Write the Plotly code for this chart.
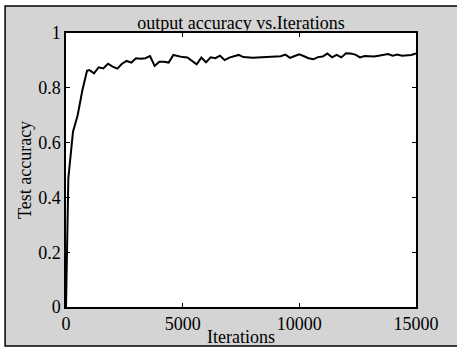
import plotly.graph_objects as go

# Test accuracy logged during training
iterations = [0, 100, 300, 500, 700, 900, 1000, 1200, 1400, 1600, 1800, 2000,
              2200, 2400, 2600, 2800, 3000, 3200, 3400, 3600, 3800, 4000, 4200,
              4400, 4600, 4800, 5000, 5200, 5400, 5600, 5800, 6000, 6200, 6400,
              6600, 6800, 7000, 7200, 7400, 7600, 7800, 8000, 8200, 8400, 8600,
              8800, 9000, 9200, 9400, 9600, 9800, 10000, 10200, 10400, 10600,
              10800, 11000, 11200, 11400, 11600, 11800, 12000, 12200, 12400,
              12600, 12800, 13000, 13200, 13400, 13600, 13800, 14000, 14200,
              14400, 14600, 14800, 15000]
accuracy = [0.0, 0.47, 0.64, 0.70, 0.79, 0.862, 0.865, 0.853, 0.875, 0.871,
            0.888, 0.877, 0.870, 0.888, 0.898, 0.892, 0.908, 0.906, 0.908,
            0.916, 0.880, 0.895, 0.895, 0.892, 0.920, 0.915, 0.912, 0.911,
            0.900, 0.886, 0.910, 0.893, 0.911, 0.908, 0.917, 0.901, 0.910,
            0.915, 0.920, 0.912, 0.910, 0.910, 0.911, 0.912, 0.913, 0.914,
            0.914, 0.915, 0.921, 0.909, 0.916, 0.922, 0.915, 0.908, 0.904,
            0.912, 0.914, 0.925, 0.911, 0.920, 0.911, 0.926, 0.925, 0.921,
            0.911, 0.916, 0.915, 0.914, 0.917, 0.919, 0.923, 0.917, 0.921,
            0.917, 0.919, 0.920, 0.925]

x_ticks = [0, 5000, 10000, 15000]
x_labels = ["0", "5000", "10000", "15000"]
y_ticks = [0, 0.2, 0.4, 0.6, 0.8, 1.0]
y_labels = ["0", "0.2", "0.4", "0.6", "0.8", "1"]

FONT = "Liberation Serif"
GRAY = "#d4d4d4"

fig = go.Figure()
fig.add_trace(go.Scatter(x=iterations, y=accuracy, mode="lines",
                         line=dict(color="black", width=2), showlegend=False))

axis_common = dict(showgrid=False, zeroline=False, showline=True, mirror="ticks",
                   linecolor="black", linewidth=1.5, ticks="inside", ticklen=4,
                   tickwidth=1, tickcolor="black",
                   tickfont=dict(family=FONT, size=18, color="black"))

fig.update_xaxes(range=[0, 15000], tickvals=x_ticks, ticktext=x_labels, **axis_common)
fig.update_yaxes(range=[0, 1], tickvals=y_ticks, ticktext=y_labels, **axis_common)

fig.update_layout(
    width=457, height=348,
    margin=dict(l=66, r=41, t=33, b=41),
    paper_bgcolor="white",
    plot_bgcolor="white",
    title=dict(text="output accuracy vs.Iterations", x=0.5, xref="paper",
               xanchor="center", y=1.0, yref="paper", yanchor="bottom",
               pad=dict(b=4),
               font=dict(family=FONT, size=18, color="black")),
    shapes=[
        # gray figure panel with black frame
        dict(type="rect", xref="paper", yref="paper", x0=-0.174, x1=1.14,
             y0=-0.1423, y1=1.0985, fillcolor=GRAY,
             line=dict(color="black", width=1.5), layer="below"),
        # white plotting area
        dict(type="rect", xref="paper", yref="paper", x0=0, x1=1, y0=0, y1=1,
             fillcolor="white", line=dict(width=0), layer="below"),
    ],
    annotations=[
        dict(text="Iterations", xref="paper", yref="paper", x=0.5, y=-0.1095,
             xanchor="center", yanchor="middle", showarrow=False,
             font=dict(family=FONT, size=18, color="black")),
        dict(text="Test accuracy", xref="paper", yref="paper", x=-0.117, y=0.5,
             xanchor="center", yanchor="middle", showarrow=False, textangle=-90,
             font=dict(family=FONT, size=18, color="black")),
    ],
)

fig.write_html("out.html")
